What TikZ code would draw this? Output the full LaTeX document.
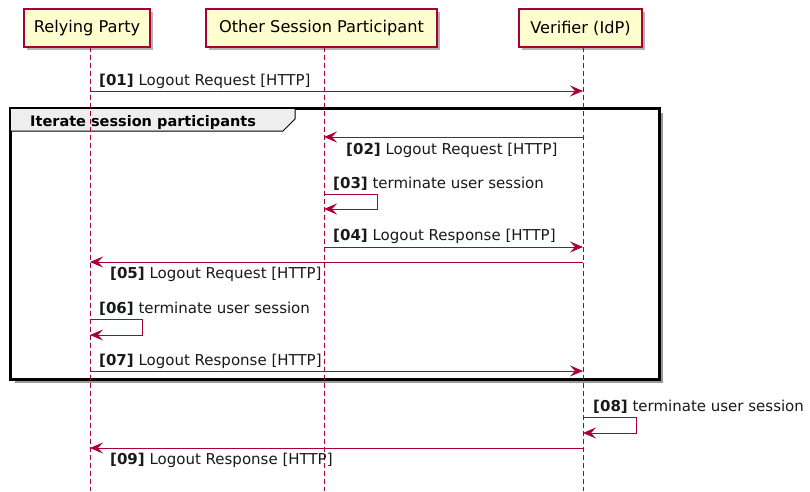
\documentclass[tikz,border=0pt]{standalone}
\usepackage{fontspec}
\setmainfont{DejaVu Sans}
\usetikzlibrary{arrows.meta,shadows}
\definecolor{pu}{HTML}{A80036}
\definecolor{pubg}{HTML}{FEFECE}
\definecolor{tabbg}{HTML}{EEEEEE}
\begin{document}
\begin{tikzpicture}[x=1pt,y=-1pt,
  part/.style={draw=pu, line width=1.3pt, fill=pubg, minimum height=38pt, inner sep=0pt,
    font=\fontsize{16.2}{18}\selectfont,
    drop shadow={shadow xshift=3pt, shadow yshift=-3pt, fill=black, opacity=0.3}},
  life/.style={draw=pu, line width=0.8pt, dash pattern=on 5pt off 3pt},
  msg/.style={draw=pu, line width=0.9pt, -{Stealth[length=13pt,width=11pt,inset=5pt]}},
  lbl/.style={anchor=base west, inner sep=0pt, font=\fontsize{15}{17}\selectfont, text=black!90},
  frm/.style={draw=black, line width=2.4pt, fill=white,
    drop shadow={shadow xshift=3.5pt, shadow yshift=-3.5pt, fill=black, opacity=0.4}}
]
\useasboundingbox (0,0) rectangle (810,491);

% participants
\node[part, minimum width=126pt] (rp) at (87,28) {Relying Party};
\node[part, minimum width=231pt] (osp) at (321.5,28) {Other Session Participant};
\node[part, minimum width=123pt] (vf) at (580.5,28) {Verifier (IdP)};

% frame
\node[frm, minimum width=648pt, minimum height=270pt, inner sep=0pt] (frame) at (335,244) {};
\fill[tabbg] (11,109) -- (295,109) -- (295,119) -- (283,131) -- (11,131) -- cycle;
\draw[black, line width=1pt] (295,109) -- (295,119) -- (283,131) -- (11,131);
\node[anchor=base west, inner sep=0pt, font=\bfseries\fontsize{14.5}{16}\selectfont] (ftitle) at (30,126) {Iterate session participants};
\draw[black, line width=2.4pt] (frame.north west) rectangle (frame.south east);

% lifelines
\coordinate (rpT) at (90,47);  \coordinate (rpB) at (90,491);
\coordinate (osT) at (324,47); \coordinate (osB) at (324,491);
\coordinate (vfT) at (583,47); \coordinate (vfB) at (583,491);
\draw[life] (rpT) -- (rpB);
\draw[life] (osT) -- (osB);
\draw[life] (vfT) -- (vfB);

% 01
\coordinate (a01) at (90,91); \coordinate (b01) at (583,91);
\draw[msg] (a01) -- (b01);
\node[lbl] (l01) at (99,85) {\textbf{[01]} Logout Request [HTTP]};
% 02
\coordinate (a02) at (583,137); \coordinate (b02) at (324,137);
\draw[msg] (a02) -- (b02);
\node[lbl] (l02) at (346,154) {\textbf{[02]} Logout Request [HTTP]};
% 03
\coordinate (a03) at (324,194); \coordinate (c03) at (377,194);
\coordinate (d03) at (377,209); \coordinate (b03) at (324,209);
\draw[msg] (a03) -- (c03) -- (d03) -- (b03);
\node[lbl] (l03) at (333,188) {\textbf{[03]} terminate user session};
% 04
\coordinate (a04) at (324,247); \coordinate (b04) at (583,247);
\draw[msg] (a04) -- (b04);
\node[lbl] (l04) at (333,240) {\textbf{[04]} Logout Response [HTTP]};
% 05
\coordinate (a05) at (583,262); \coordinate (b05) at (90,262);
\draw[msg] (a05) -- (b05);
\node[lbl] (l05) at (110,278) {\textbf{[05]} Logout Request [HTTP]};
% 06
\coordinate (a06) at (90,319); \coordinate (c06) at (142,319);
\coordinate (d06) at (142,335); \coordinate (b06) at (90,335);
\draw[msg] (a06) -- (c06) -- (d06) -- (b06);
\node[lbl] (l06) at (99,313) {\textbf{[06]} terminate user session};
% 07
\coordinate (a07) at (90,371); \coordinate (b07) at (583,371);
\draw[msg] (a07) -- (b07);
\node[lbl] (l07) at (99,365) {\textbf{[07]} Logout Response [HTTP]};
% 08
\coordinate (a08) at (583,417); \coordinate (c08) at (636,417);
\coordinate (d08) at (636,433); \coordinate (b08) at (583,433);
\draw[msg] (a08) -- (c08) -- (d08) -- (b08);
\node[lbl] (l08) at (593,411) {\textbf{[08]} terminate user session};
% 09
\coordinate (a09) at (583,448); \coordinate (b09) at (90,448);
\draw[msg] (a09) -- (b09);
\node[lbl] (l09) at (110,464) {\textbf{[09]} Logout Response [HTTP]};
\end{tikzpicture}
\end{document}
